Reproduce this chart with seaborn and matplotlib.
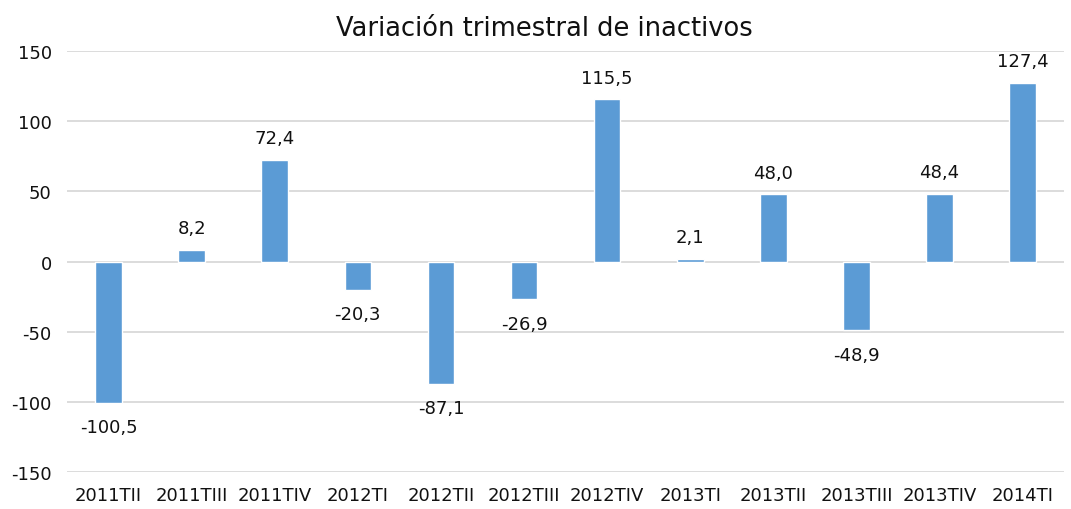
import matplotlib
matplotlib.use("Agg")
import matplotlib.pyplot as plt
import seaborn as sns
import pandas as pd

trimestres = ["2011TII", "2011TIII", "2011TIV", "2012TI", "2012TII", "2012TIII",
              "2012TIV", "2013TI", "2013TII", "2013TIII", "2013TIV", "2014TI"]
variacion = [-100.5, 8.2, 72.4, -20.3, -87.1, -26.9, 115.5, 2.1, 48.0, -48.9, 48.4, 127.4]
y_ticks = [-150, -100, -50, 0, 50, 100, 150]

sns.set_theme(style="white")
plt.rcParams["font.family"] = ["DejaVu Sans"]

df = pd.DataFrame({"trimestre": trimestres, "variacion": variacion})

fig = plt.figure(figsize=(10.71, 5.10), dpi=100)
ax = fig.add_axes([0.0626, 0.0725, 0.931, 0.8255])

for t in y_ticks:
    ax.axhline(t, color="#D9D9D9", lw=1.3, zorder=0)

sns.barplot(data=df, x="trimestre", y="variacion", color="#5B9BD5",
            width=0.32, saturation=1, ax=ax, zorder=2)

for i, v in enumerate(variacion):
    txt = f"{v:.1f}".replace(".", ",")
    if v >= 0:
        ax.text(i, v + 9, txt, ha="center", va="bottom", fontsize=13, color="#111111")
    else:
        ax.text(i, v - 11, txt, ha="center", va="top", fontsize=13, color="#111111")

ax.set_ylim(-150, 150)
ax.set_xlim(-0.5, len(trimestres) - 0.5)
ax.set_yticks(y_ticks)
ax.set_yticklabels([str(t) for t in y_ticks])
ax.set_xlabel("")
ax.set_ylabel("")
ax.tick_params(axis="both", labelsize=13, colors="#111111", length=0)
ax.tick_params(axis="y", pad=11)
ax.tick_params(axis="x", pad=10)
for s in ax.spines.values():
    s.set_visible(False)

fig.text(0.508, 0.93, "Variación trimestral de inactivos", fontsize=18.5,
         color="#111111", ha="center", va="baseline")

fig.savefig("out.png", dpi=100)
